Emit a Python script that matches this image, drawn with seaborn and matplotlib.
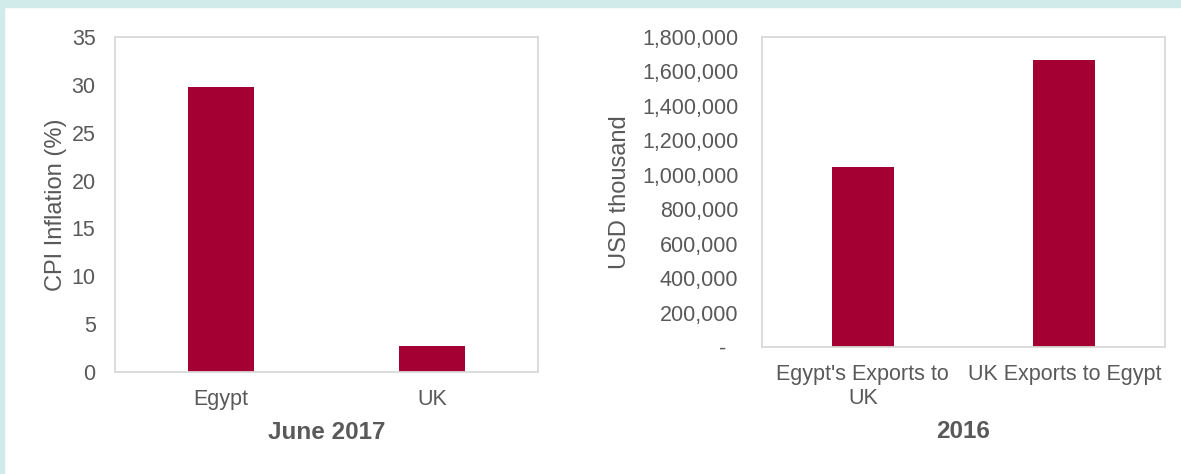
import matplotlib
matplotlib.use("Agg")
import matplotlib.pyplot as plt
import matplotlib.ticker as mticker
import seaborn as sns

# Data
cpi_categories = ["Egypt", "UK"]
cpi_values = [29.8, 2.7]
trade_categories = ["Egypt's Exports to\nUK", "UK Exports to Egypt"]
trade_values = [1047000, 1666000]

sns.set_theme(style="white")
plt.rcParams['font.family'] = ['Liberation Sans', 'DejaVu Sans']

BAR = "#a50034"
TXT = "#595959"
SPINE = "#d9d9d9"

W, H = 1181, 474
fig = plt.figure(figsize=(W / 100, H / 100), dpi=100)
fig.patch.set_facecolor("white")

# teal frame on top and left
fig.patches.append(plt.Rectangle((0, 1 - 7 / H), 1, 7 / H, transform=fig.transFigure,
                                 color="#d1eaea", zorder=-10))
fig.patches.append(plt.Rectangle((0, 0), 4 / W, 1, transform=fig.transFigure,
                                 color="#d1eaea", zorder=-10))

ax1 = fig.add_axes([115 / W, (H - 372) / H, 423 / W, 335 / H])
ax2 = fig.add_axes([762 / W, (H - 347) / H, 403 / W, 310 / H])

sns.barplot(x=cpi_categories, y=cpi_values, color=BAR, saturation=1, width=0.31,
            ax=ax1, linewidth=0)
sns.barplot(x=trade_categories, y=trade_values, color=BAR, saturation=1, width=0.31,
            ax=ax2, linewidth=0)

ax1.set_ylim(0, 35)
ax1.yaxis.set_major_locator(mticker.MultipleLocator(5))
ax2.set_ylim(0, 1800000)
ax2.yaxis.set_major_locator(mticker.MultipleLocator(200000))
ax2.yaxis.set_major_formatter(mticker.FuncFormatter(
    lambda v, p: "-  " if v == 0 else f"{int(v):,}"))

for ax in (ax1, ax2):
    ax.set_xlim(-0.5, 1.5)
    for s in ax.spines.values():
        s.set_visible(True)
        s.set_color(SPINE)
        s.set_linewidth(1.3)
    ax.tick_params(axis="both", length=0, labelsize=15.5, labelcolor=TXT)
    ax.tick_params(axis="x", pad=12)
    ax.grid(False)

ax1.tick_params(axis="y", pad=14)
ax2.tick_params(axis="y", pad=17)

ax1.set_ylabel("CPI Inflation (%)", fontsize=17, color=TXT, labelpad=3)
ax2.set_ylabel("USD thousand", fontsize=17, color=TXT, labelpad=8)
ax1.set_xlabel("June 2017", fontsize=17.5, color=TXT, fontweight="bold", labelpad=8)
ax2.set_xlabel("2016", fontsize=17.5, color=TXT, fontweight="bold", labelpad=8)

fig.savefig("out.png", dpi=100)
